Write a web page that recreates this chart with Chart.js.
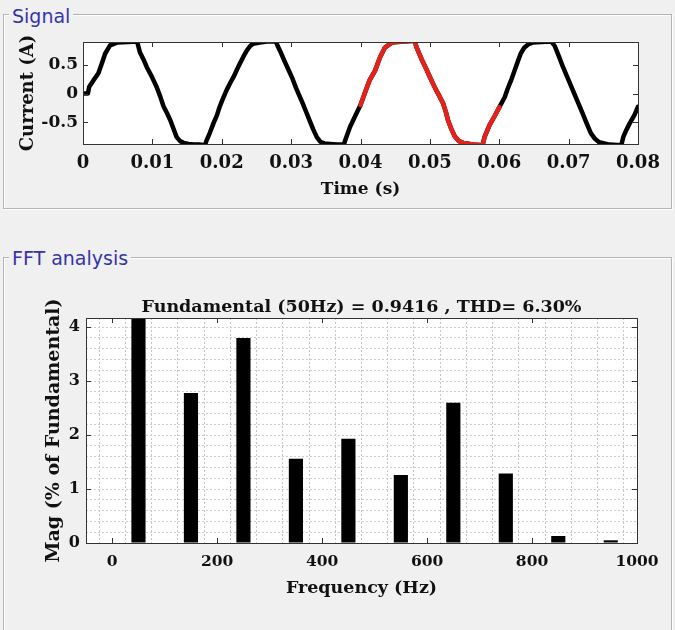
<!DOCTYPE html>
<html><head><meta charset="utf-8">
<script src="https://cdn.jsdelivr.net/npm/chart.js@4.4.1/dist/chart.umd.min.js"></script>
<style>
html,body{margin:0;padding:0;background:#f0f0f0;width:675px;height:630px;overflow:hidden;position:relative;}
.box{position:absolute;border:1px solid #b4b4b4;box-shadow:inset 1px 1px 0 #fff,1px 1px 0 #fff;}
.lbl{position:absolute;font-family:"DejaVu Sans",sans-serif;font-size:19px;line-height:22px;color:#3535a8;background:#f0f0f0;padding:0 3px;white-space:nowrap;}
canvas{position:absolute;left:0;}
</style></head><body>
<div class="box" style="left:3px;top:14px;width:667px;height:193px"></div>
<div class="lbl" style="left:9px;top:5px">Signal</div>
<div class="box" style="left:3px;top:257px;width:667px;height:400px"></div>
<div class="lbl" style="left:9px;top:247px">FFT analysis</div>
<canvas id="sig" width="675" height="210" style="top:0;width:675px;height:210px"></canvas>
<canvas id="fft" width="675" height="420" style="top:210px;width:675px;height:420px"></canvas>
<script>
// ---- Signal data (time in s, current in A) ----
const timeS = [
 0,0.0007,0.0009,0.0015,0.0022,0.0027,0.0032,0.0039,0.0049,0.0065,0.0078,0.0082,0.0087,0.0092,0.0099,0.0106,0.0111,0.0116,0.0121,0.0126,0.0131,0.0135,0.0140,0.0145,0.0152,0.0160,0.0168,0.0176,0.0178,0.0183,0.0188,0.0193,0.0197,
 0.0202,0.0207,0.0212,0.0217,0.0222,0.0226,0.0231,0.0236,0.0241,0.0245,0.0255,0.0265,0.0278,0.0281,0.0285,0.0290,0.0296,0.0302,0.0307,0.0312,0.0317,0.0322,0.0327,0.0332,0.0337,0.0342,0.0348,0.0356,0.0366,0.0376,0.0379,0.0385,0.0392,0.0400,
 0.0406,0.0413,0.0421,0.0428,0.0435,0.0445,0.0461,0.0478,0.0481,0.0488,0.0494,0.0500,0.0505,0.0509,0.0514,0.0519,0.0523,0.0526,0.0531,0.0536,0.0542,0.0548,0.0562,0.0576,0.0579,0.0586,0.0593,0.0600,
 0.0608,0.0612,0.0617,0.0622,0.0627,0.0631,0.0636,0.0642,0.0648,0.0660,0.0675,0.0680,0.0686,0.0692,0.0699,0.0706,0.0713,0.0720,0.0726,0.0732,0.0738,0.0744,0.0759,0.0776,0.0779,0.0783,0.0788,0.0795,0.0800
];
const currentA = [
 0,0,0.12,0.23,0.35,0.52,0.70,0.84,0.89,0.90,0.91,0.72,0.60,0.46,0.30,0.12,-0.04,-0.22,-0.34,-0.47,-0.63,-0.76,-0.83,-0.86,-0.88,-0.89,-0.89,-0.90,-0.82,-0.68,-0.52,-0.38,-0.23,
 -0.08,0.06,0.18,0.29,0.42,0.52,0.64,0.75,0.83,0.87,0.89,0.91,0.91,0.82,0.72,0.58,0.42,0.26,0.10,-0.04,-0.18,-0.33,-0.48,-0.63,-0.76,-0.84,-0.87,-0.88,-0.89,-0.89,-0.78,-0.58,-0.40,-0.20,
 0.00,0.23,0.40,0.63,0.80,0.89,0.91,0.92,0.80,0.60,0.45,0.29,0.16,0.06,-0.05,-0.17,-0.32,-0.46,-0.62,-0.75,-0.83,-0.86,-0.89,-0.90,-0.75,-0.55,-0.40,-0.24,
 -0.06,0.08,0.23,0.40,0.57,0.70,0.80,0.86,0.89,0.90,0.91,0.83,0.65,0.46,0.26,0.06,-0.14,-0.34,-0.52,-0.69,-0.79,-0.85,-0.89,-0.90,-0.75,-0.64,-0.52,-0.37,-0.23
];
const analysisWindowS = [0.04, 0.06];
const signalXTicks = [0,0.01,0.02,0.03,0.04,0.05,0.06,0.07,0.08];
const signalYTicks = [-0.5,0,0.5];

// ---- FFT data ----
const fftFreqHz = [50,150,250,350,450,550,650,750,850,950];
const fftMagPct = [100,2.78,3.8,1.56,1.93,1.26,2.6,1.29,0.13,0.05];
const fftXTicks = [0,200,400,600,800,1000];
const fftYTicks = [0,1,2,3,4];
const fundamentalHz = 50, fundamentalMag = 0.9416, thdPct = 6.30;

const SERIF = '"DejaVu Serif", "Liberation Serif", serif';
const TXT = '#111';

function makeFrame(xTicks, yTicks){
  return {
    id:'frame',
    beforeDraw(chart){
      const a=chart.chartArea, c=chart.ctx;
      c.save(); c.fillStyle='#fff'; c.fillRect(a.left,a.top,a.right-a.left,a.bottom-a.top); c.restore();
    },
    afterDraw(chart){
      const a=chart.chartArea, c=chart.ctx, xs=chart.scales.x, ys=chart.scales.y, L=5;
      c.save(); c.strokeStyle='#333'; c.lineWidth=1; c.beginPath();
      xTicks.forEach(v=>{const p=Math.round(xs.getPixelForValue(v))+0.5; c.moveTo(p,a.bottom); c.lineTo(p,a.bottom-L); c.moveTo(p,a.top); c.lineTo(p,a.top+L);});
      yTicks.forEach(v=>{const p=Math.round(ys.getPixelForValue(v))+0.5; c.moveTo(a.left,p); c.lineTo(a.left+L,p); c.moveTo(a.right,p); c.lineTo(a.right-L,p);});
      c.stroke();
      c.strokeRect(Math.round(a.left)+0.5, Math.round(a.top)+0.5, Math.round(a.right-a.left), Math.round(a.bottom-a.top));
      c.restore();
    }
  };
}

const allPts = timeS.map((t,i)=>({x:t,y:currentA[i]}));
const winPts = allPts.filter(p=>p.x>=analysisWindowS[0]-1e-9 && p.x<=analysisWindowS[1]+1e-9);

new Chart(document.getElementById('sig'), {
  type:'line',
  data:{datasets:[
    {data:winPts, borderColor:'#e3231b', borderWidth:4.5, pointRadius:0, tension:0, borderJoinStyle:'round', borderCapStyle:'round'},
    {data:allPts, borderColor:'#000', borderWidth:4.5, pointRadius:0, tension:0, borderJoinStyle:'round', borderCapStyle:'round'}
  ]},
  options:{
    responsive:false, animation:false, devicePixelRatio:1,
    layout:{padding:{left:0,top:42,right:37,bottom:0}},
    plugins:{legend:{display:false}, tooltip:{enabled:false}, title:{display:false}},
    scales:{
      x:{type:'linear', min:0, max:0.08,
        afterBuildTicks:s=>{s.ticks=signalXTicks.map(v=>({value:v}));},
        afterFit:s=>{s.height=66;},
        grid:{display:false, drawTicks:false}, border:{display:false},
        ticks:{padding:9, autoSkip:false, maxRotation:0, color:TXT, font:{family:SERIF, weight:'bold', size:18},
          callback:v=> v===0 ? '0' : Number(v).toFixed(2)},
        title:{display:true, text:'Time (s)', color:TXT, font:{family:SERIF, weight:'bold', size:17}, padding:{top:0,bottom:10}}
      },
      y:{type:'linear', min:-0.88, max:0.9,
        afterBuildTicks:s=>{s.ticks=signalYTicks.map(v=>({value:v}));},
        afterFit:s=>{s.width=83;},
        grid:{display:false, drawTicks:false}, border:{display:false},
        ticks:{padding:5, autoSkip:false, color:TXT, font:{family:SERIF, weight:'bold', size:17},
          callback:v=> v===0 ? '0' : String(v)},
        title:{display:true, text:'Current (A)', color:TXT, font:{family:SERIF, weight:'bold', size:18}, padding:{top:18,bottom:0}}
      }
    }
  },
  plugins:[makeFrame(signalXTicks, signalYTicks)]
});

const xGrid=[]; for(let v=-50; v<=1000; v+=50) xGrid.push(v);
const yGrid=[]; for(let k=0; k<=20; k++) yGrid.push(Math.round(k*0.2*10)/10);

new Chart(document.getElementById('fft'), {
  type:'bar',
  data:{datasets:[{
    data:fftFreqHz.map((f,i)=>({x:f,y:fftMagPct[i]})),
    backgroundColor:'#000', borderWidth:0, barPercentage:0.54, categoryPercentage:1, clip:0
  }]},
  options:{
    responsive:false, animation:false, devicePixelRatio:1,
    layout:{padding:{left:0,top:87,right:38,bottom:0}},
    plugins:{legend:{display:false}, tooltip:{enabled:false},
      title:{display:true, fullSize:false, text:`Fundamental (${fundamentalHz}Hz) = ${fundamentalMag} , THD= ${thdPct.toFixed(2)}%`,
        color:TXT, font:{family:SERIF, weight:'bold', size:17.5}, padding:{top:0,bottom:0}}},
    scales:{
      x:{type:'linear', min:-50, max:1000, offset:false,
        afterBuildTicks:s=>{s.ticks=xGrid.map(v=>({value:v}));},
        afterFit:s=>{s.height=87;},
        grid:{display:true, drawTicks:false, color:'#c4c4c4', lineWidth:1}, border:{display:false, dash:[2,2]},
        ticks:{padding:10, autoSkip:false, maxRotation:0, color:TXT, font:{family:SERIF, weight:'bold', size:15.5},
          callback:v=> fftXTicks.includes(v) ? String(v) : ''},
        title:{display:true, text:'Frequency (Hz)', color:TXT, font:{family:SERIF, weight:'bold', size:17.5}, padding:{top:0,bottom:31}}
      },
      y:{type:'linear', min:0, max:4.17,
        afterBuildTicks:s=>{s.ticks=yGrid.map(v=>({value:v}));},
        afterFit:s=>{s.width=86;},
        grid:{display:true, drawTicks:false, color:'#cdcdcd', lineWidth:1}, border:{display:false, dash:[2,2]},
        ticks:{padding:6, autoSkip:false, color:TXT, font:{family:SERIF, weight:'bold', size:16},
          callback:v=> fftYTicks.includes(v) ? String(v) : ''},
        title:{display:true, text:'Mag (% of Fundamental)', color:TXT, font:{family:SERIF, weight:'bold', size:19}, padding:{top:43,bottom:0}}
      }
    }
  },
  plugins:[makeFrame(fftXTicks, fftYTicks)]
});
</script>
</body></html>
